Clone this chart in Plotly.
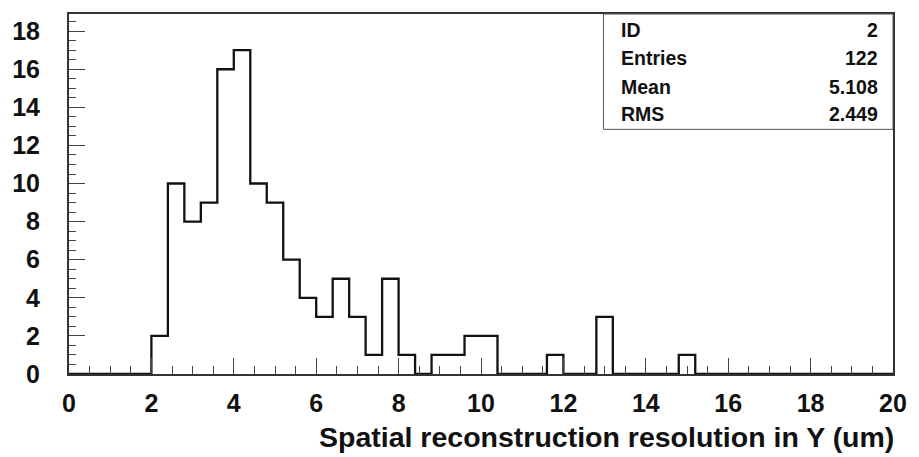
import numpy as np
import plotly.graph_objects as go

# Histogram: 50 bins of width 0.4 between 0 and 20
bin_low = 0.0
bin_width = 0.4
counts = [0, 0, 0, 0, 0, 2, 10, 8, 9, 16,
          17, 10, 9, 6, 4, 3, 5, 3, 1, 5,
          1, 0, 1, 1, 2, 2, 0, 0, 0, 1,
          0, 0, 3, 0, 0, 0, 0, 1, 0, 0,
          0, 0, 0, 0, 0, 0, 0, 0, 0, 0]

stat_labels = ["ID", "Entries", "Mean", "RMS"]
stat_values = ["2", "122", "5.108", "2.449"]

x_title = "Spatial reconstruction resolution in Y (um)"

edges = bin_low + bin_width * np.arange(len(counts) + 1)
ys = list(counts) + [counts[-1]]

FONT = "Liberation Sans, Arial, sans-serif"

fig = go.Figure()
fig.add_trace(go.Scatter(
    x=edges, y=ys, mode="lines", line=dict(shape="hv", color="#111111", width=2.3),
    hoverinfo="skip", showlegend=False))

W, H = 919, 457
L, R, T, B = 69, 19, 12, 83
pw, ph = W - L - R, H - T - B

def px(xp):
    return (xp - L) / pw

def py(yp):
    return (H - B - yp) / ph

fig.update_layout(
    width=W, height=H,
    margin=dict(l=L, r=R, t=T, b=B, pad=0),
    paper_bgcolor="white", plot_bgcolor="white",
    showlegend=False,
)

axis_common = dict(
    showgrid=False, zeroline=False,
    showline=True, linecolor="#333333", linewidth=2, mirror=True,
    ticks="inside", tickcolor="#444444", tickwidth=1, ticklen=16,
    tickfont=dict(family=FONT, size=25, color="#111111", weight="bold"),
)

fig.update_xaxes(range=[0, 20], dtick=2, tick0=0,
                 minor=dict(dtick=0.5, ticks="inside", ticklen=8, tickcolor="#444444", tickwidth=1),
                 ticklabelstandoff=6, **axis_common)
fig.update_yaxes(range=[0, 18.9], dtick=2, tick0=0,
                 minor=dict(dtick=0.5, ticks="inside", ticklen=7, tickcolor="#444444", tickwidth=1),
                 ticklabelstandoff=22, **axis_common)

# x-axis title, right aligned
fig.add_annotation(text=x_title, xref="paper", yref="paper",
                   x=px(903), y=py(437), xanchor="right", yanchor="middle",
                   showarrow=False,
                   font=dict(family=FONT, size=28.5, color="#111111", weight="bold"))

# stats box
fig.add_shape(type="rect", xref="paper", yref="paper",
              x0=px(608), x1=1.0, y0=py(128), y1=1.0,
              line=dict(color="#555555", width=1), fillcolor="white", layer="above")

row_centers = [28.5, 56.5, 85, 113]
for lab, val, yc in zip(stat_labels, stat_values, row_centers):
    fig.add_annotation(text=lab, xref="paper", yref="paper", x=px(624), y=py(yc),
                       xanchor="left", yanchor="middle", showarrow=False,
                       font=dict(family=FONT, size=19.5, color="#111111", weight="bold"))
    fig.add_annotation(text=val, xref="paper", yref="paper", x=px(887), y=py(yc),
                       xanchor="right", yanchor="middle", showarrow=False,
                       font=dict(family=FONT, size=19.5, color="#111111", weight="bold"))

fig.write_html("out.html")
